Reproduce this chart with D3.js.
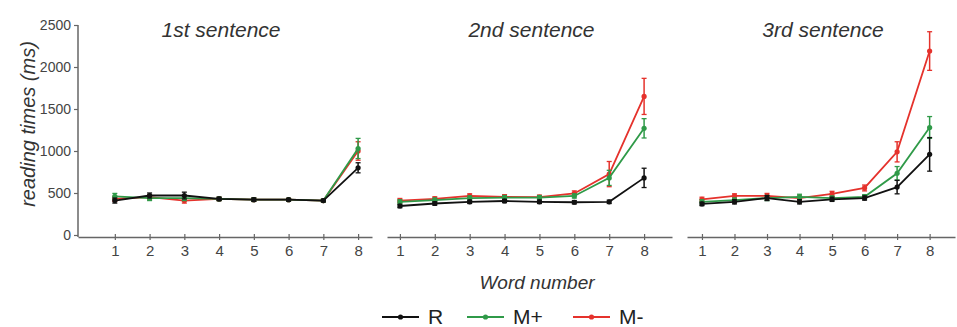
<!DOCTYPE html>
<html>
<head>
<meta charset="utf-8">
<script src="https://cdn.jsdelivr.net/npm/d3@7"></script>
<style>
  body { margin: 0; background: #fff; }
  svg { display: block; font-family: "Liberation Sans", Arial, sans-serif; }
</style>
</head>
<body>
<div id="chart"></div>
<script>
var words = [1, 2, 3, 4, 5, 6, 7, 8];
var yTicks = [0, 500, 1000, 1500, 2000, 2500];
var panelTitles = ["1st sentence", "2nd sentence", "3rd sentence"];
var seriesNames = ["R", "M+", "M-"];

// mean reading times per sentence (ms)
var s1R = [410, 470, 470, 430, 420, 420, 410, 800];
var s1Mp = [460, 440, 440, 430, 420, 420, 410, 1030];
var s1Mm = [430, 450, 410, 430, 420, 420, 410, 1000];
var s2R = [345, 375, 395, 405, 395, 390, 395, 680];
var s2Mp = [395, 415, 440, 445, 445, 465, 680, 1270];
var s2Mm = [410, 430, 465, 455, 450, 495, 725, 1650];
var s3R = [370, 395, 440, 395, 425, 440, 570, 960];
var s3Mp = [395, 415, 440, 455, 440, 455, 735, 1280];
var s3Mm = [425, 465, 465, 440, 490, 560, 990, 2190];

// standard errors
var e1R = [30, 30, 40, 20, 20, 15, 15, 60];
var e1Mp = [35, 30, 30, 20, 20, 15, 15, 120];
var e1Mm = [30, 30, 30, 20, 20, 15, 15, 110];
var e2R = [20, 20, 20, 20, 20, 20, 20, 115];
var e2Mp = [25, 25, 25, 25, 25, 25, 90, 115];
var e2Mm = [25, 25, 25, 25, 25, 30, 150, 215];
var e3R = [20, 25, 30, 25, 25, 25, 80, 200];
var e3Mp = [25, 25, 30, 30, 25, 25, 80, 130];
var e3Mm = [25, 25, 30, 25, 30, 35, 120, 230];

var means = [[s1R, s1Mp, s1Mm], [s2R, s2Mp, s2Mm], [s3R, s3Mp, s3Mm]];
var errs = [[e1R, e1Mp, e1Mm], [e2R, e2Mp, e2Mm], [e3R, e3Mp, e3Mm]];
var colors = { "R": "#111111", "M+": "#2f9a48", "M-": "#e5322c" };

var width = 957, height = 327;

var svg = d3.select("#chart")
  .append("svg")
  .attr("width", width)
  .attr("height", height);

var y = d3.scaleLinear()
  .domain([0, 2500])
  .range([235, 25]);

// each panel has its own stretch of x axis
var panels = [
  { domain: [-0.06, 8.4], range: [78, 372] },
  { domain: [0.63, 8.8], range: [387, 672] },
  { domain: [0.54, 8.78], range: [687, 955] }
];

// y axis
var yAxis = svg.append("g")
  .attr("transform", "translate(78,0)")
  .call(d3.axisLeft(y).tickValues(yTicks).tickSize(4).tickFormat(d3.format("d")));
yAxis.select(".domain").attr("stroke", "#666").attr("stroke-width", 1.5)
  .attr("d", "M0," + y(2500) + "V237");
yAxis.selectAll(".tick line").attr("stroke", "#666").attr("stroke-width", 1.2);
yAxis.selectAll(".tick text")
  .attr("x", -7)
  .style("font-size", "14px")
  .style("fill", "#444");

svg.append("text")
  .attr("transform", "translate(35,124) rotate(-90)")
  .attr("text-anchor", "middle")
  .style("font-size", "20px")
  .style("font-style", "italic")
  .style("fill", "#333")
  .text("reading times (ms)");

panels.forEach(function (p, i) {
  var x = d3.scaleLinear().domain(p.domain).range(p.range);
  var g = svg.append("g");

  var xAxis = g.append("g")
    .attr("transform", "translate(0,237)")
    .call(d3.axisBottom(x).tickValues(words).tickSize(3).tickSizeOuter(0).tickPadding(5));
  xAxis.select(".domain").attr("stroke", "#666").attr("stroke-width", 1.5);
  xAxis.selectAll(".tick line").attr("stroke", "#666").attr("stroke-width", 1.2).attr("y1", -3);
  xAxis.selectAll(".tick text")
    .style("font-size", "15px")
    .style("fill", "#444");

  g.append("text")
    .attr("x", (p.range[0] + p.range[1]) / 2 - (i == 0 ? 4 : -2))
    .attr("y", 37)
    .attr("text-anchor", "middle")
    .style("font-size", "21px")
    .style("font-style", "italic")
    .style("fill", "#333")
    .text(panelTitles[i]);

  // draw M- first so R ends up on top
  [2, 1, 0].forEach(function (s) {
    var name = seriesNames[s];
    var vals = means[i][s];
    var se = errs[i][s];
    var col = colors[name];
    var pts = words.map(function (w, k) { return { w: w, v: vals[k], e: se[k] }; });

    var sg = g.append("g");
    sg.selectAll("line.err")
      .data(pts)
      .enter()
      .append("line")
      .attr("class", "err")
      .attr("x1", function (d) { return x(d.w); })
      .attr("x2", function (d) { return x(d.w); })
      .attr("y1", function (d) { return y(d.v - d.e); })
      .attr("y2", function (d) { return y(d.v + d.e); })
      .attr("stroke", col)
      .attr("stroke-width", 1.5);
    [1, -1].forEach(function (sign) {
      sg.selectAll("line.cap" + sign)
        .data(pts)
        .enter()
        .append("line")
        .attr("x1", function (d) { return x(d.w) - 2.5; })
        .attr("x2", function (d) { return x(d.w) + 2.5; })
        .attr("y1", function (d) { return y(d.v + sign * d.e); })
        .attr("y2", function (d) { return y(d.v + sign * d.e); })
        .attr("stroke", col)
        .attr("stroke-width", 1.3);
    });

    sg.append("path")
      .datum(pts)
      .attr("fill", "none")
      .attr("stroke", col)
      .attr("stroke-width", 1.8)
      .attr("d", d3.line()
        .x(function (d) { return x(d.w); })
        .y(function (d) { return y(d.v); }));

    sg.selectAll("circle")
      .data(pts)
      .enter()
      .append("circle")
      .attr("cx", function (d) { return x(d.w); })
      .attr("cy", function (d) { return y(d.v); })
      .attr("r", 2.6)
      .style("fill", col);
  });
});

svg.append("text")
  .attr("x", 537)
  .attr("y", 289)
  .attr("text-anchor", "middle")
  .style("font-size", "19px")
  .style("font-style", "italic")
  .style("fill", "#333")
  .text("Word number");

// legend
var legendX = [382, 467, 573];
var legend = svg.append("g");
seriesNames.forEach(function (name, k) {
  var lx = legendX[k];
  legend.append("line")
    .attr("x1", lx).attr("x2", lx + 37)
    .attr("y1", 317).attr("y2", 317)
    .attr("stroke", colors[name])
    .attr("stroke-width", 2);
  legend.append("circle")
    .attr("cx", lx + 18.5).attr("cy", 317).attr("r", 2.6)
    .style("fill", colors[name]);
  legend.append("text")
    .attr("x", lx + 46)
    .attr("y", 324)
    .style("font-size", "21px")
    .style("fill", "#222")
    .text(name);
});
</script>
</body>
</html>
